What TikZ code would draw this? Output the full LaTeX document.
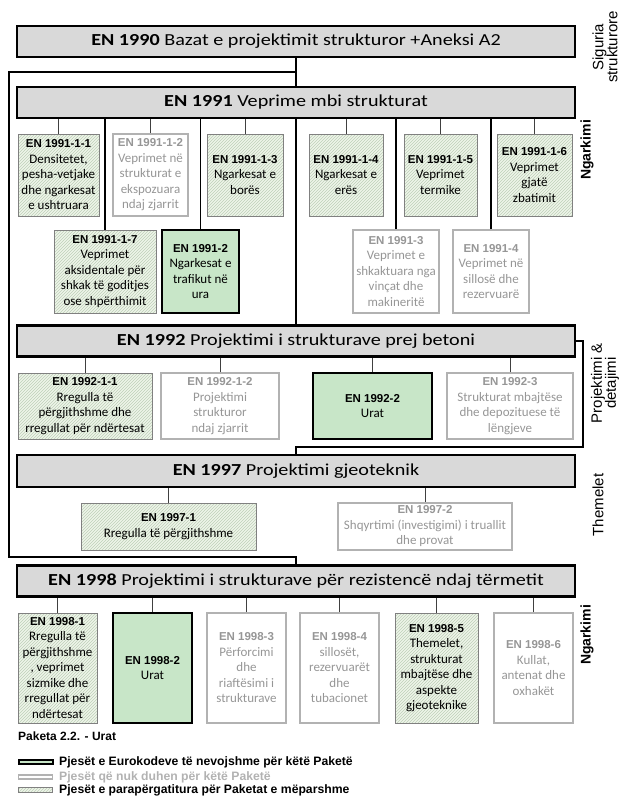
\documentclass[tikz,border=0pt]{standalone}
\usepackage{fontspec}
\setmainfont{Carlito}
\newfontfamily\widefont{Carlito}[FakeStretch=1.2]
\newfontfamily\arialfont{Liberation Sans}
\usetikzlibrary{patterns}
\definecolor{boxgray}{RGB}{217,217,217}
\definecolor{needgreen}{RGB}{200,230,200}
\definecolor{hatchbg}{RGB}{238,245,234}
\definecolor{hatchline}{RGB}{190,208,184}
\definecolor{offgray}{RGB}{178,178,178}
\definecolor{offtext}{RGB}{150,150,150}
\newcommand{\code}[1]{{\arialfont\bfseries\fontsize{11.5}{15.5}\selectfont #1}}
\begin{document}
\begin{tikzpicture}[x=1pt,y=-1pt,
    every node/.style={inner sep=0pt,align=center,font=\fontsize{13}{15.5}\selectfont},
    main/.style={draw,line width=2.4pt,fill=boxgray,minimum width=558,minimum height=31,font=\widefont\fontsize{16.8}{20}\selectfont},
    part/.style={draw=gray,line width=0.8pt,preaction={fill=hatchbg},pattern=north east lines,pattern color=hatchline},
    need/.style={draw,line width=2.4pt,fill=needgreen},
    off/.style={draw=offgray,line width=2pt,text=offtext},
    side/.style={rotate=90,font=\arialfont\fontsize{15}{14}\selectfont},
    legend/.style={anchor=west,font=\arialfont\bfseries\fontsize{12.2}{13}\selectfont},
    link/.style={line width=1.3pt},
    tick/.style={line width=0.9pt,black!75}]
    \useasboundingbox (0,0) rectangle (623,796);
    % main parts
    \node [main] (A) at (296,41.5) {\textbf{EN 1990} Bazat e projektimit strukturor +Aneksi A2};
    \node [main] (B) at (296,102.5) {\textbf{EN 1991} Veprime mbi strukturat};
    \node [main] (C) at (296,341) {\textbf{EN 1992} Projektimi i strukturave prej betoni};
    \node [main,minimum height=32] (D) at (296,471) {\textbf{EN 1997} Projektimi gjeoteknik};
    \node [main] (E) at (296,581) {\textbf{EN 1998} Projektimi i strukturave për rezistencë ndaj tërmetit};
    % EN 1991
    \begin{scope}[every node/.append style={minimum height=82}]
        \node [part,minimum width=81] (B1) at (58.5,175) {\code{EN 1991-1-1}\\Densitetet,\\pesha-vetjake\\dhe ngarkesat\\e ushtruara};
        \node [off,minimum width=75] (B2) at (150.5,175) {\code{EN 1991-1-2}\\Veprimet në\\strukturat e\\ekspozuara\\ndaj zjarrit};
        \node [part,minimum width=76] (B3) at (245,175) {\code{EN 1991-1-3}\\Ngarkesat e\\borës};
        \node [part,minimum width=74] (B4) at (346,175) {\code{EN 1991-1-4}\\Ngarkesat e\\erës};
        \node [part,minimum width=73] (B5) at (440.5,175) {\code{EN 1991-1-5}\\Veprimet\\termike};
        \node [part,minimum width=75] (B6) at (534.5,175) {\code{EN 1991-1-6}\\Veprimet\\gjatë\\zbatimit};
    \end{scope}
    \begin{scope}[every node/.append style={minimum height=83}]
        \node [part,minimum width=102] (B7) at (105,271.5) {\code{EN 1991-1-7}\\Veprimet\\aksidentale për\\shkak të goditjes\\ose shpërthimit};
        \node [need,minimum width=77] (B8) at (200.5,271.5) {\code{EN 1991-2}\\Ngarkesat e\\trafikut në\\ura};
        \node [off,minimum width=86] (B9) at (396,271.5) {\code{EN 1991-3}\\Veprimet e\\shkaktuara nga\\vinçat dhe\\makineritë};
        \node [off,minimum width=76] (B10) at (491,271.5) {\code{EN 1991-4}\\Veprimet në\\sillosë dhe\\rezervuarë};
    \end{scope}
    % EN 1992
    \begin{scope}[every node/.append style={minimum height=66}]
        \node [part,minimum width=134] (C1) at (85,406) {\code{EN 1992-1-1}\\Rregulla të\\përgjithshme dhe\\rregullat për ndërtesat};
        \node [off,minimum width=118] (C2) at (220,406) {\code{EN 1992-1-2}\\Projektimi\\strukturor\\ndaj zjarrit};
        \node [need,minimum width=119] (C3) at (372.5,406) {\code{EN 1992-2}\\Urat};
        \node [off,minimum width=126] (C4) at (510,406) {\code{EN 1992-3}\\Strukturat mbajtëse\\dhe depozituese të\\lëngjeve};
    \end{scope}
    % EN 1997
    \node [part,minimum width=175,minimum height=47] (D1) at (168.5,526.5) {\code{EN 1997-1}\\Rregulla të përgjithshme};
    \node [off,minimum width=174,minimum height=47] (D2) at (425,526.5) {\code{EN 1997-2}\\Shqyrtimi (investigimi) i truallit\\dhe provat};
    % EN 1998
    \begin{scope}[every node/.append style={minimum height=110,minimum width=79}]
        \node [part] (E1) at (57.5,668) {\code{EN 1998-1}\\Rregulla të\\përgjithshme\\, veprimet\\sizmike dhe\\rregullat për\\ndërtesat};
        \node [need] (E2) at (152.5,668) {\code{EN 1998-2}\\Urat};
        \node [off] (E3) at (246.5,668) {\code{EN 1998-3}\\Përforcimi\\dhe\\riaftësimi i\\strukturave};
        \node [off] (E4) at (339.5,668) {\code{EN 1998-4}\\sillosët,\\rezervuarët\\dhe\\tubacionet};
        \node [part,minimum width=83] (E5) at (436.5,668) {\code{EN 1998-5}\\Themelet,\\strukturat\\mbajtëse dhe\\aspekte\\gjeoteknike};
        \node [off] (E6) at (533.5,668) {\code{EN 1998-6}\\Kullat,\\antenat dhe\\oxhakët};
    \end{scope}
    % side labels
    \node [side] (S1) at (605,47) {Siguria\\strukturore};
    \node [side,font=\arialfont\bfseries\fontsize{14}{14}\selectfont] (S2) at (587,150) {Ngarkimi};
    \node [side] (S3) at (605,383) {Projektimi \&\\detajimi};
    \node [side] (S4) at (598,505) {Themelet};
    \node [side,font=\arialfont\bfseries\fontsize{14}{14}\selectfont] (S5) at (587,635) {Ngarkimi};
    % legend
    \node [anchor=west,font=\arialfont\bfseries\fontsize{12}{13}\selectfont] (P) at (18,736) {Paketa 2.2. - Urat};
    \node [need,line width=2pt,minimum width=34,minimum height=4] (L1) at (35.5,762) {};
    \node [off,line width=1.5pt,fill=white,minimum width=34,minimum height=4] (L2) at (35.5,777) {};
    \node [part,minimum width=34,minimum height=5] (L3) at (35.5,790) {};
    \node [legend] (T1) at (59,762) {Pjesët e Eurokodeve të nevojshme për këtë Paketë};
    \node [legend,text=offgray] (T2) at (59,777) {Pjesët që nuk duhen për këtë Paketë};
    \node [legend] (T3) at (59,790) {Pjesët e parapërgatitura për Paketat e mëparshme};
    % links
    \coordinate (K1) at (9,72);
    \coordinate (K2) at (9,557);
    \coordinate (K3) at (583,447);
    \draw [link] (A.south) -- (B.north);
    \draw [link] (A.south |- K1) -- (K1) -- (K2) -| (E.north);
    \draw [link] (B.south) -- (C.north);
    \draw [link] (C.east) -| (K3) -- (K3 -| D.north) -- (D.north);
    \foreach \n in {B1,B2,B3,B4,B5,B6} \draw [tick] (\n.north) -- (\n.north |- B.south);
    \foreach \n in {B7,B8,B9,B10} \draw [link] (\n.north) -- (\n.north |- B.south);
    \foreach \n in {C1,C2,C3,C4} \draw [tick] (\n.north) -- (\n.north |- C.south);
    \foreach \n in {D1,D2} \draw [tick] (\n.north) -- (\n.north |- D.south);
    \foreach \n in {E1,E2,E3,E4,E5,E6} \draw [tick] (\n.north) -- (\n.north |- E.south);
\end{tikzpicture}
\end{document}
